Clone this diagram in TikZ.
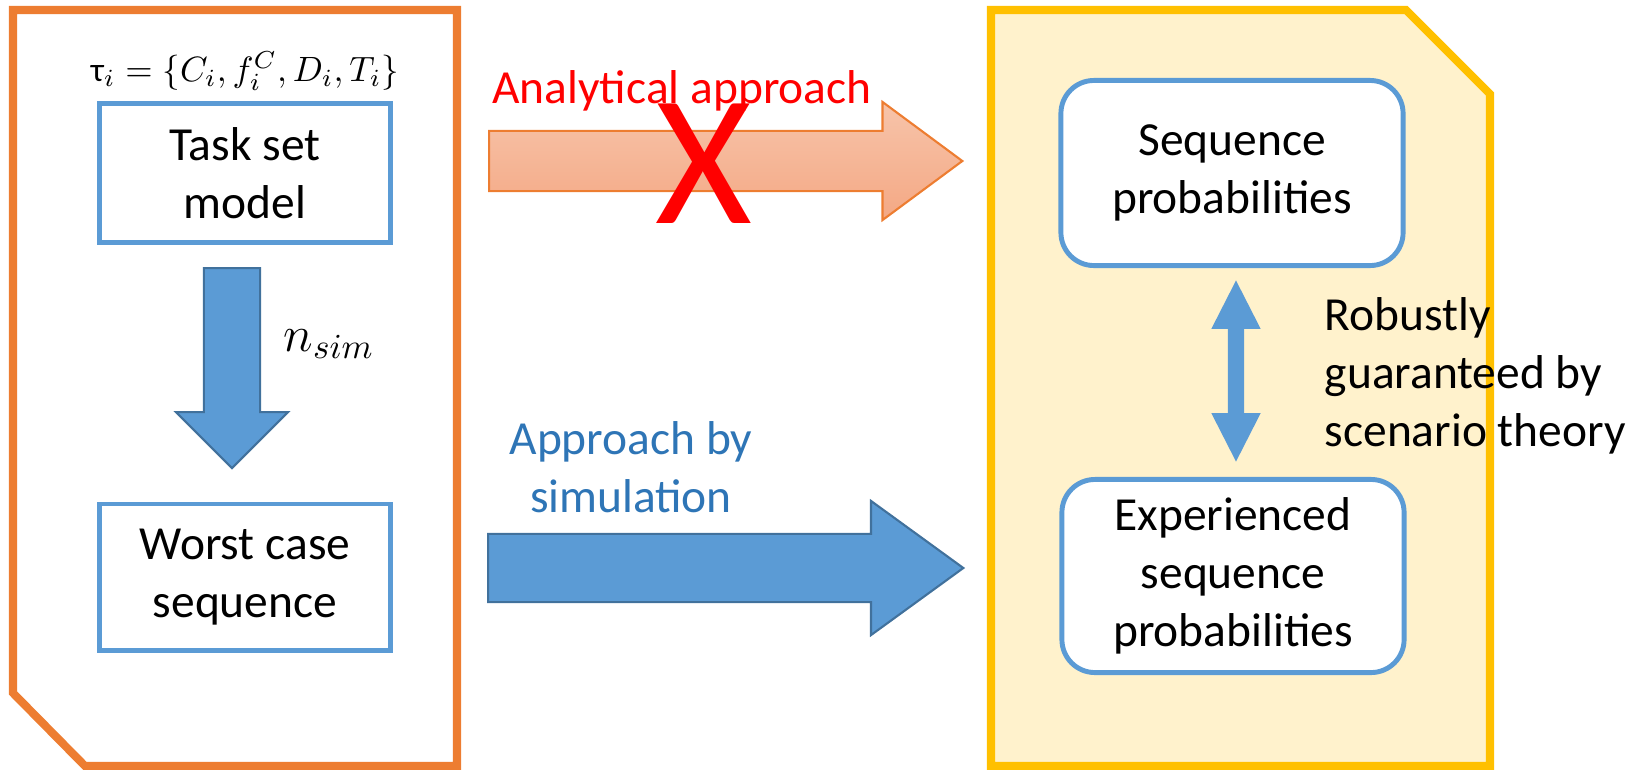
\documentclass[tikz,border=0pt]{standalone}
\usepackage{amsmath}
\usepackage{fontspec}
\setmainfont{Carlito}
\usepackage{tikz}
\usetikzlibrary{positioning,shapes.arrows}
\definecolor{myblue}{RGB}{91,155,213}
\definecolor{mybluedark}{RGB}{65,113,156}
\definecolor{mytextblue}{RGB}{46,117,182}
\definecolor{myorange}{RGB}{237,125,49}
\definecolor{myyellow}{RGB}{255,192,0}
\definecolor{myyellowfill}{RGB}{255,242,204}
\definecolor{mypeachtop}{RGB}{247,196,170}
\definecolor{mypeachbot}{RGB}{244,168,132}
\newcommand{\bigfont}{\fontsize{13.5}{16.5}\selectfont}

\tikzset{
  box/.style={draw=myblue, line width=1.4pt, fill=white, minimum width=2.91cm,
    minimum height=1.42cm, align=center, font=\bigfont},
  roundbox/.style={box, rounded corners=0.33cm, minimum width=3.42cm},
  panel/.style={line width=2.3pt},
  blockarrow/.style={single arrow, anchor=tail, inner xsep=0pt, line width=0.6pt},
  lbl/.style={inner sep=0pt, font=\bigfont}
}

\begin{document}
\begin{tikzpicture}[x=0.01cm, y=-0.01cm]
  \useasboundingbox (0,0) rectangle (1645,769);
  % the two panels
  \draw[panel, draw=myorange, fill=white] (13,10) -- (457,10) -- (457,766) -- (85,766) -- (13,693) -- cycle;
  \draw[panel, draw=myyellow, fill=myyellowfill] (991,10) -- (1406,10) -- (1490,94) -- (1490,766) -- (991,766) -- cycle;

  % left panel
  \node[box, minimum height=1.39cm] (task) at (245,173) {Task set\\model};
  \node[lbl, font=\fontsize{9.6}{11}\selectfont, above=0.1cm of task] (tau) {$\text{τ}_i = \{C_i, f_i^C, D_i, T_i\}$};
  \node[box, minimum height=1.46cm] (worst) at (245,577) {Worst case\\sequence};
  \node[blockarrow, fill=myblue, draw=mybluedark, rotate=-90, inner ysep=0.27cm, minimum height=2cm,
    minimum width=1.1cm, single arrow head extend=0.28cm, single arrow tip angle=90] (down) at (232,267) {};
  \node[lbl, font=\fontsize{14}{16}\selectfont] (nsim) at (329,344) {$n_{sim}$};

  % between the panels
  \node[blockarrow, top color=mypeachtop, bottom color=mypeachbot, draw=myorange, inner ysep=0.29cm,
    minimum height=4.73cm, minimum width=1.16cm, single arrow head extend=0.29cm,
    single arrow tip angle=73] (ana) at (488,161) {};
  \node[lbl, text=red, anchor=base] (anatext) at (682,103) {Analytical approach};
  \node[lbl, text=red, font=\fontsize{53}{53}\selectfont] (cross) at (704,164) {X};
  \node[blockarrow, fill=myblue, draw=mybluedark, inner ysep=0.33cm, minimum height=4.75cm,
    minimum width=1.32cm, single arrow head extend=0.33cm, single arrow tip angle=72] (sim) at (487,568) {};
  \node[lbl, text=mytextblue, align=center] (simtext) at (631,467) {Approach by\\simulation};

  % right panel
  \node[roundbox, minimum height=1.85cm] (seq) at (1232,173) {Sequence\\probabilities};
  \node[roundbox, minimum height=1.93cm] (exp) at (1233,576) {Experienced\\sequence\\probabilities};
  \node[double arrow, fill=myblue, inner xsep=0pt, inner ysep=0.075cm, rotate=90, minimum height=1.81cm,
    minimum width=0.48cm, double arrow head extend=0.165cm, double arrow tip angle=54] (link) at (1236,371) {};
  \node[lbl, align=left, anchor=west] (robust) at (1324,376) {Robustly\\guaranteed by\\scenario theory};
\end{tikzpicture}
\end{document}
